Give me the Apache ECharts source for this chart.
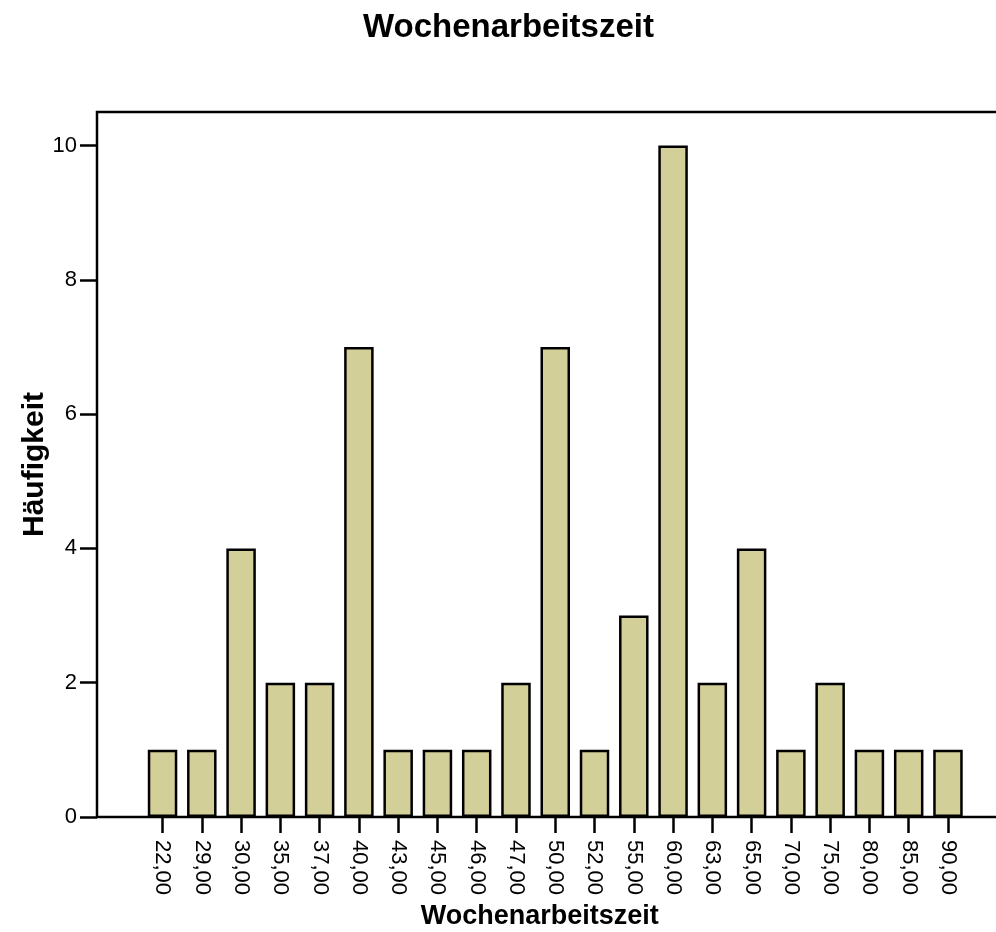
<!DOCTYPE html>
<html>
<head>
<meta charset="utf-8">
<script src="https://cdn.jsdelivr.net/npm/echarts@6/dist/echarts.min.js"></script>
<style>
  html, body { margin: 0; padding: 0; background: #fff; }
  #chart { width: 996px; height: 932px; }
</style>
</head>
<body>
<div id="chart"></div>
<script>
// Wochenarbeitszeit (Stunden) und Häufigkeit
const categories = ["22,00", "29,00", "30,00", "35,00", "37,00", "40,00", "43,00", "45,00", "46,00", "47,00",
  "50,00", "52,00", "55,00", "60,00", "63,00", "65,00", "70,00", "75,00", "80,00", "85,00", "90,00"];
const counts = [1, 1, 4, 2, 2, 7, 1, 1, 1, 2, 7, 1, 3, 10, 2, 4, 1, 2, 1, 1, 1];
const yTicks = [0, 2, 4, 6, 8, 10];

const font = "'Liberation Sans', Arial, Helvetica, sans-serif";

const myChart = echarts.init(document.getElementById("chart"));

const option = {
  animation: false,
  backgroundColor: "#fff",
  title: {
    text: "Wochenarbeitszeit",
    left: 358,
    top: 6,
    textStyle: { fontFamily: font, fontSize: 33, fontWeight: "bold", color: "#000" },
  },
  grid: [
    // frame: left, top and bottom lines (right side runs off the picture)
    { left: 97, right: -10, top: 112, bottom: 115, outerBoundsMode: "none", show: true, borderColor: "#000", borderWidth: 2.5 },
    // bars sit inside, with SPSS-like padding
    { left: 142.9, right: 28.4, top: 112, bottom: 115, outerBoundsMode: "none" },
  ],
  xAxis: [
    { gridIndex: 0, type: "value", min: 0, max: 1, show: false },
    {
      gridIndex: 1,
      type: "category",
      data: categories,
      name: "Wochenarbeitszeit",
      nameLocation: "middle",
      nameGap: 86,
      nameMoveOverlap: false,
      nameTextStyle: { fontFamily: font, fontSize: 27, fontWeight: "bold", color: "#000", padding: [0, 31, 0, 0] },
      axisLine: { show: false },
      axisTick: { show: true, alignWithLabel: true, length: 16, lineStyle: { color: "#000", width: 2.5 } },
      axisLabel: { rotate: -90, margin: 23, interval: 0, fontFamily: font, fontSize: 22, color: "#000" },
      splitLine: { show: false },
    },
  ],
  yAxis: [
    {
      gridIndex: 0,
      type: "value",
      min: 0,
      max: 10.5,
      interval: 2,
      name: "Häufigkeit",
      nameLocation: "middle",
      nameGap: 47,
      nameMoveOverlap: false,
      nameTextStyle: { fontFamily: font, fontSize: 30, fontWeight: "bold", color: "#000" },
      axisLine: { show: false },
      axisTick: { show: true, length: 17, customValues: yTicks, lineStyle: { color: "#000", width: 2.5 } },
      axisLabel: { margin: 20, customValues: yTicks, fontFamily: font, fontSize: 22, color: "#000" },
      splitLine: { show: false },
    },
    { gridIndex: 1, type: "value", min: 0, max: 10.5, show: false },
  ],
  series: [
    {
      type: "bar",
      xAxisIndex: 1,
      yAxisIndex: 1,
      data: counts,
      barWidth: 29.5,
      itemStyle: { color: "#d3cf98", borderColor: "#000", borderWidth: 2.5 },
    },
  ],
};

myChart.setOption(option);
</script>
</body>
</html>
